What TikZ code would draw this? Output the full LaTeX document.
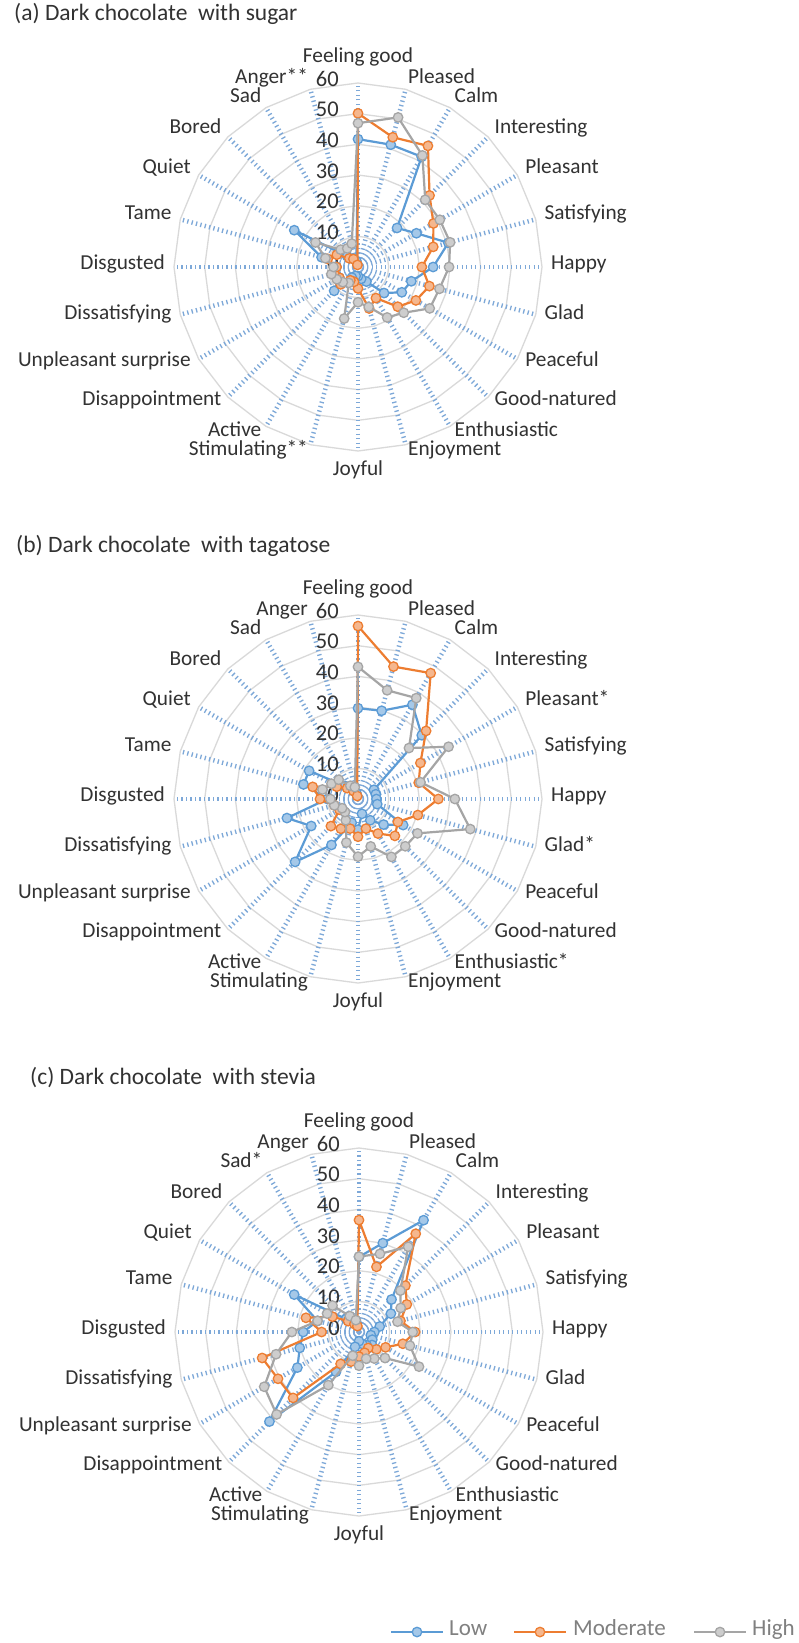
\documentclass[tikz,border=0pt]{standalone}
\usepackage{fontspec}
\setmainfont{Carlito}
\usetikzlibrary{calc}

\definecolor{lowc}{RGB}{91,155,213}
\definecolor{modc}{RGB}{237,125,49}
\definecolor{highc}{RGB}{165,165,165}
\definecolor{spokec}{RGB}{125,168,216}
\definecolor{ringc}{RGB}{217,217,217}
\definecolor{labc}{RGB}{50,50,50}
\definecolor{legc}{RGB}{128,128,128}

\tikzset{
  ring/.style={draw=ringc, line width=1.3pt},
  spoke/.style={draw=spokec, line width=4.5pt, dash pattern=on 1.3pt off 3.2pt},
  axlabel/.style={font=\fontsize{21.3}{24}\selectfont, text=labc, inner sep=0pt,
    text height=0.65em, text depth=0.15em},
  numlabel/.style={font=\fontsize{22.5}{24}\selectfont, text=labc, inner sep=0pt,
    anchor=east, text height=0.64em, text depth=0pt},
  charttitle/.style={font=\fontsize{23.5}{26}\selectfont, text=labc, inner sep=0pt,
    anchor=west, text height=0.66em, text depth=0.2em},
  serline/.style={draw=#1, line width=2.2pt, line join=round},
  sermark/.style={circle, draw=#1, fill=#1!55!white, line width=1.3pt,
    minimum size=9.5pt, inner sep=0pt},
  legtext/.style={font=\fontsize{23}{26}\selectfont, text=legc, inner sep=0pt,
    anchor=west, text height=0.64em, text depth=0pt},
}

% one data series: prefix, tag, colour, centre x, centre y, 24 values
\newcommand\radarseries[6]{%
  \foreach \v [count=\i from 0] in {#6} {
    \coordinate (#1-#2-\i) at ({#4 + 3.0667*\v*sin(15*\i)}, {#5 - 3.0667*\v*cos(15*\i)});
  }
  \draw[serline=#3] (#1-#2-0) \foreach \i in {1,...,23} { -- (#1-#2-\i) } -- cycle;
  \foreach \i in {0,...,23} { \node[sermark=#3] (#1-#2-m\i) at (#1-#2-\i) {}; }
}

% radar chart: prefix, centre x, centre y, axis names, low, moderate, high
\newcommand\radarchart[7]{%
  \coordinate (#1-c) at (#2,#3);
  \foreach \k in {1,...,6} {
    \draw[ring] ({#2}, {#3 - 30.6667*\k})
      \foreach \j in {1,...,23} { -- ({#2 + 30.6667*\k*sin(15*\j)}, {#3 - 30.6667*\k*cos(15*\j)}) } -- cycle;
  }
  \foreach \j in {0,...,23} {
    \draw[spoke] (#1-c) -- ({#2 + 184*sin(15*\j)}, {#3 - 184*cos(15*\j)});
  }
  \foreach \k in {0,...,6} {
    \pgfmathtruncatemacro\nv{10*\k}
    \node[numlabel] (#1-n\k) at ({#2 - 19}, {#3 - 30.6667*\k}) {\nv};
  }
  \foreach \t [count=\j from 0] in {#4} {
    \ifnum\j=0 \def\anc{center}\def\rr{207}\else
    \ifnum\j=12 \def\anc{center}\def\rr{206}\else
    \ifnum\j<12 \def\anc{west}\def\rr{193}\else \def\anc{east}\def\rr{193}\fi\fi\fi
    \node[axlabel, anchor=\anc] (#1-l\j) at ({#2 + \rr*sin(15*\j)}, {#3 - \rr*cos(15*\j)}) {\t};
  }
  \radarseries{#1}{lo}{lowc}{#2}{#3}{#5}
  \radarseries{#1}{mo}{modc}{#2}{#3}{#6}
  \radarseries{#1}{hi}{highc}{#2}{#3}{#7}
}

\begin{document}
\begin{tikzpicture}[x=1pt,y=-1pt]
\fill[white] (0,0) rectangle (799,1643);
\useasboundingbox (0,0) rectangle (799,1643);

% (a) sugar
\node[charttitle] (title-a) at (14,18) {(a) Dark chocolate~ with sugar};
\radarchart{a}{358}{267}
 {Feeling good,Pleased,Calm,Interesting,Pleasant,Satisfying,Happy,Glad,Peaceful,Good-natured,Enthusiastic,Enjoyment,Joyful,Stimulating**,Active,Disappointment,Unpleasant surprise,Dissatisfying,Disgusted,Tame,Quiet,Bored,Sad,Anger**}
 {41.7,41.3,41.5,18,22,30.5,24.5,18,16.5,12,5.5,4,3,3,4,11,7,8,7,12.3,24,5,3,2}
 {50.1,43.8,45.6,33,28.4,25.4,20.8,24.1,21.8,18.3,11.7,14,7,5,5,8,7,8,7,10.2,8,4,3,0.7}
 {46.9,50.5,42,31,30.8,31.1,29.7,27.5,27,21.1,19,13.5,11.5,17.4,6,7,8,9,8,11,16,8,7,7.9}

% (b) tagatose
\node[charttitle] (title-b) at (16,550) {(b) Dark chocolate~ with tagatose};
\radarchart{b}{358}{799}
 {Feeling good,Pleased,Calm,Interesting,Pleasant*,Satisfying,Happy,Glad*,Peaceful,Good-natured,Enthusiastic*,Enjoyment,Joyful,Stimulating,Active,Disappointment,Unpleasant surprise,Dissatisfying,Disgusted,Tame,Quiet,Bored,Sad,Anger}
 {29.6,29.8,35.5,29.4,6,6,6,6.5,17,11.8,8,5,10,8,17.3,29,17.6,24,10,18.4,18.4,6,3,2}
 {56.4,44.7,47.4,31.4,23.5,20.5,26.2,20.2,15,17,13,10,12.3,10,11.2,12.5,7,8,12.4,15.3,8,5,3,1}
 {43.1,36.7,38,23.5,34.1,21.1,31.6,37.9,22.4,21.8,21.8,16,18.8,14.7,8,6,6,8,9,12,10,8.9,5,4}

% (c) stevia
\node[charttitle] (title-c) at (30,1082) {(c) Dark chocolate~ with stevia};
\radarchart{c}{359}{1332}
 {Feeling good,Pleased,Calm,Interesting,Pleasant,Satisfying,Happy,Glad,Peaceful,Good-natured,Enthusiastic,Enjoyment,Joyful,Stimulating,Active,Disappointment,Unpleasant surprise,Dissatisfying,Disgusted,Tame,Quiet,Bored,Sad*,Anger}
 {24.5,30,42.1,15,12,7,5,4,5,6,5,4,3,5,15,41.3,23.2,20,18.2,14,24.4,6,4,3}
 {36.5,22,37,21.4,18,14,18.3,14.8,10,8,6,7,8,10,12,30.4,30.5,32.7,12.2,17.9,10,5,3,2}
 {24.6,26.4,32.1,19.1,15.7,13,17.5,17.2,22.6,12,10,9,11,8,20,38,35.7,28,21.9,14,12,12.2,6,4}

% legend
\coordinate (lg-lo) at (417,1632);
\coordinate (lg-mo) at (540,1632);
\coordinate (lg-hi) at (720,1632);
\draw[serline=lowc] ($(lg-lo)+(-26,0)$) -- ($(lg-lo)+(26,0)$);
\draw[serline=modc] ($(lg-mo)+(-26,0)$) -- ($(lg-mo)+(26,0)$);
\draw[serline=highc] ($(lg-hi)+(-26,0)$) -- ($(lg-hi)+(26,0)$);
\node[sermark=lowc] (lg-lo-m) at (lg-lo) {};
\node[sermark=modc] (lg-mo-m) at (lg-mo) {};
\node[sermark=highc] (lg-hi-m) at (lg-hi) {};
\node[legtext] (lg-lo-t) at (449,1632) {Low};
\node[legtext] (lg-mo-t) at (573,1632) {Moderate};
\node[legtext] (lg-hi-t) at (752,1632) {High};
\end{tikzpicture}
\end{document}
